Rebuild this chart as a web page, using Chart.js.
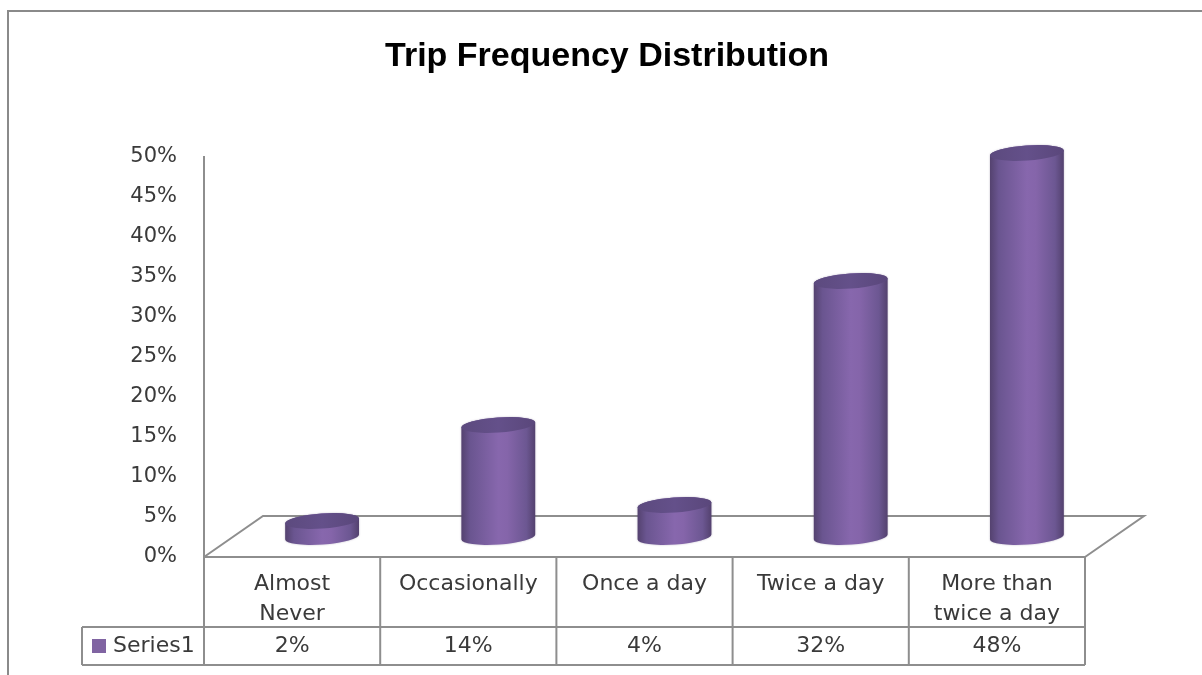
<!DOCTYPE html>
<html>
<head>
<meta charset="utf-8">
<title>Trip Frequency Distribution</title>
<script src="https://cdn.jsdelivr.net/npm/chart.js@4/dist/chart.umd.min.js"></script>
<style>
  html, body { margin: 0; padding: 0; background: #ffffff; }
  #wrap { width: 1202px; height: 675px; }
</style>
</head>
<body>
<div id="wrap"><canvas id="chart" width="1202" height="675"></canvas></div>
<script>
// Chart content
const chartTitle = 'Trip Frequency Distribution';
const seriesName = 'Series1';
const categories = [
  ['Almost', 'Never'],
  ['Occasionally'],
  ['Once a day'],
  ['Twice a day'],
  ['More than', 'twice a day']
];
const values = [2, 14, 4, 32, 48];      // percent
const yMin = 0;
const yMax = 50;
const yStep = 5;

// Styling
const textColor = '#3a3a3a';
const lineColor = '#8e8e8e';
const purple = '#8064a2';
const bodyFont = "'DejaVu Sans', Verdana, sans-serif";

// 3D look: depth of the floor and the half-depth where the cylinders stand
const DEPTH_X = 59, DEPTH_Y = 41;
const HALF_X = 30, HALF_Y = 20;
const ELLIPSE_RY = 7.5;
const TILT = -0.07;

// table rows below the plot
const HEADER_ROW_H = 70;
const VALUE_ROW_H = 38;
const LEGEND_CELL_LEFT = 82;

const floorPlugin = {
  id: 'floor',
  beforeDatasetsDraw(chart) {
    const { ctx, chartArea: a } = chart;
    ctx.save();
    ctx.strokeStyle = lineColor;
    ctx.lineWidth = 2;
    ctx.beginPath();
    ctx.moveTo(a.left, a.bottom);
    ctx.lineTo(a.left + DEPTH_X, a.bottom - DEPTH_Y);
    ctx.lineTo(a.right + DEPTH_X, a.bottom - DEPTH_Y);
    ctx.lineTo(a.right, a.bottom);
    ctx.stroke();
    ctx.restore();
  }
};

const cylinderPlugin = {
  id: 'cylinders',
  afterDatasetsDraw(chart) {
    const { ctx } = chart;
    const meta = chart.getDatasetMeta(0);
    meta.data.forEach((el) => {
      const p = el.getProps(['x', 'y', 'base', 'width'], true);
      const cx = p.x + HALF_X;
      const top = p.y - HALF_Y;
      const bot = p.base - HALF_Y;
      const rx = p.width / 2;
      const ry = ELLIPSE_RY;

      ctx.save();
      // soft shading round the body
      const g = ctx.createLinearGradient(cx - rx, 0, cx + rx, 0);
      g.addColorStop(0, '#54426f');
      g.addColorStop(0.12, '#6a5590');
      g.addColorStop(0.5, '#8767ad');
      g.addColorStop(0.62, '#8565aa');
      g.addColorStop(0.88, '#6c5792');
      g.addColorStop(1, '#53416e');

      ctx.beginPath();
      ctx.ellipse(cx, bot, rx, ry, TILT, 0, Math.PI, false);
      ctx.ellipse(cx, top, rx, ry, TILT, Math.PI, 2 * Math.PI, false);
      ctx.closePath();
      ctx.fillStyle = g;
      ctx.shadowColor = 'rgba(60,40,90,0.35)';
      ctx.shadowBlur = 2;
      ctx.fill();
      ctx.shadowBlur = 0;

      // top face
      const tg = ctx.createLinearGradient(cx - rx, 0, cx + rx, 0);
      tg.addColorStop(0, '#5c4a7e');
      tg.addColorStop(0.5, '#64508a');
      tg.addColorStop(1, '#5a477b');
      ctx.beginPath();
      ctx.ellipse(cx, top, rx, ry, TILT, 0, 2 * Math.PI);
      ctx.fillStyle = tg;
      ctx.fill();
      ctx.restore();
    });
  }
};

const tablePlugin = {
  id: 'dataTable',
  afterDraw(chart) {
    const { ctx, chartArea: a } = chart;
    const xs = chart.scales.x;
    const n = categories.length;
    const step = (a.right - a.left) / n;
    const row1 = a.bottom + HEADER_ROW_H;
    const row2 = row1 + VALUE_ROW_H;

    ctx.save();
    ctx.strokeStyle = lineColor;
    ctx.lineWidth = 2;
    ctx.beginPath();
    // axis line carried down through the table
    ctx.moveTo(a.left, a.bottom);
    ctx.lineTo(a.left, row2);
    // horizontal rules
    ctx.moveTo(a.left, a.bottom);
    ctx.lineTo(a.right, a.bottom);
    ctx.moveTo(LEGEND_CELL_LEFT, row1);
    ctx.lineTo(a.right, row1);
    ctx.moveTo(LEGEND_CELL_LEFT, row2);
    ctx.lineTo(a.right, row2);
    ctx.moveTo(LEGEND_CELL_LEFT, row1);
    ctx.lineTo(LEGEND_CELL_LEFT, row2);
    // column separators
    for (let i = 1; i <= n; i++) {
      const x = a.left + step * i;
      ctx.moveTo(x, a.bottom);
      ctx.lineTo(x, row2);
    }
    ctx.stroke();

    // value row
    ctx.fillStyle = textColor;
    ctx.font = '22px ' + bodyFont;
    ctx.textAlign = 'center';
    ctx.textBaseline = 'middle';
    const midY = (row1 + row2) / 2;
    values.forEach((v, i) => {
      ctx.fillText(v + '%', xs.getPixelForValue(i), midY);
    });

    // legend key
    ctx.fillStyle = purple;
    ctx.fillRect(LEGEND_CELL_LEFT + 10, midY - 7, 14, 14);
    ctx.fillStyle = textColor;
    ctx.textAlign = 'left';
    ctx.fillText(seriesName, LEGEND_CELL_LEFT + 31, midY);

    // outer frame
    ctx.strokeStyle = '#8a8a8a';
    ctx.beginPath();
    ctx.moveTo(8, 675);
    ctx.lineTo(8, 11);
    ctx.lineTo(1202, 11);
    ctx.stroke();
    ctx.restore();
  }
};

new Chart(document.getElementById('chart'), {
  type: 'bar',
  data: {
    labels: categories,
    datasets: [{
      label: seriesName,
      data: values,
      backgroundColor: 'rgba(0,0,0,0)',
      borderWidth: 0,
      barPercentage: 0.42,
      categoryPercentage: 1
    }]
  },
  options: {
    responsive: false,
    animation: false,
    devicePixelRatio: 1,
    layout: { padding: { left: 129, right: 117, top: 0, bottom: 8 } },
    plugins: {
      legend: { display: false },
      tooltip: { enabled: false },
      title: {
        display: true,
        text: chartTitle,
        color: '#000000',
        font: { family: "'Liberation Sans', Arial, sans-serif", size: 34, weight: 'bold', lineHeight: 1.2 },
        padding: { top: 36, bottom: 80.2 }
      }
    },
    scales: {
      y: {
        min: yMin,
        max: yMax,
        ticks: {
          stepSize: yStep,
          callback: (v) => v + '%',
          color: textColor,
          font: { family: bodyFont, size: 21 },
          padding: 27
        },
        grid: { display: false, drawTicks: false },
        border: { display: true, color: lineColor, width: 2 },
        afterFit: (s) => { s.width = 75; }
      },
      x: {
        ticks: {
          color: textColor,
          font: { family: bodyFont, size: 22, lineHeight: 1.36 },
          padding: 12,
          maxRotation: 0,
          autoSkip: false
        },
        grid: { display: false, drawTicks: false },
        border: { display: false },
        afterFit: (s) => { s.height = 110; }
      }
    }
  },
  plugins: [floorPlugin, cylinderPlugin, tablePlugin]
});
</script>
</body>
</html>
